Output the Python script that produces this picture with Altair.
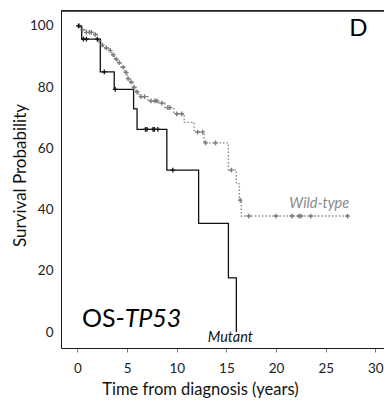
import altair as alt
import pandas as pd

FONT = "Lato"

# Kaplan-Meier step points (time in years, survival %)
mutant_t = [0, 0.42, 2.3, 3.7, 5.65, 6.0, 9.0, 12.2, 15.2, 16.0]
mutant_s = [100, 95.7, 85.0, 79.3, 72.9, 66.2, 52.9, 35.5, 17.7, 0]

wt_t = [0, 0.3, 0.8, 1.6, 2.0, 2.3, 2.6, 3.1, 3.4, 3.7, 4.0, 4.4, 4.7, 5.0, 5.3,
        5.6, 5.9, 6.2, 7.1, 8.2, 8.8, 9.7, 10.75, 11.75, 12.75, 15.2, 16.0,
        16.3, 16.5, 27.2]
wt_s = [100, 98.7, 97.9, 97.2, 95.2, 93.8, 92.8, 92.0, 90.6, 89.2, 88.0, 86.5,
        84.8, 82.8, 81.7, 79.9, 78.4, 76.9, 75.5, 74.8, 73.3, 71.3, 68.5, 65.3,
        61.8, 52.9, 48.4, 43.1, 37.9, 37.9]

# Censored observations
mutant_cens_t = [0.1, 0.6, 0.9, 2.0, 2.7, 3.8, 6.85, 7.0, 7.6, 7.75, 8.1, 9.6]
mutant_cens_s = [100, 95.7, 95.7, 95.7, 85.0, 79.3, 66.2, 66.2, 66.2, 66.2, 66.2, 52.9]

wt_cens_t = [0.2, 0.5, 0.9, 1.2, 1.4, 1.8, 2.2, 2.5, 2.9, 3.3, 3.6, 3.9, 4.2, 4.6,
             4.9, 5.1, 5.4, 5.7, 6.0, 6.4, 6.75, 7.4, 7.8, 8.0, 8.5, 9.1, 9.3,
             10.0, 10.5, 12.1, 12.6, 12.9, 13.9, 15.5, 16.4, 17.25, 20.0, 21.6,
             22.3, 22.5, 23.5, 27.2]
wt_cens_s = [100, 98.7, 97.9, 97.9, 97.9, 97.2, 95.2, 93.8, 92.8, 92.0, 90.6,
             89.2, 88.0, 86.5, 84.8, 82.8, 81.7, 79.9, 78.4, 76.9, 76.9, 75.5,
             75.5, 75.5, 74.8, 73.3, 73.3, 71.3, 71.3, 65.3, 65.3, 61.8, 61.8,
             52.9, 43.1, 37.9, 37.9, 37.9, 37.9, 37.9, 37.9, 37.9]

x_ticks = [0, 5, 10, 15, 20, 25, 30]
y_ticks = [0, 20, 40, 60, 80, 100]

X_MIN, X_MAX = -1.66, 30.87
Y_MIN, Y_MAX = -5.2, 105.2

W, H = 323, 338
xs = alt.Scale(domain=[X_MIN, X_MAX], nice=False, zero=False)
ys = alt.Scale(domain=[Y_MIN, Y_MAX], nice=False, zero=False)

mut = pd.DataFrame({"t": mutant_t, "s": mutant_s})
wt = pd.DataFrame({"t": wt_t, "s": wt_s})
mut_c = pd.DataFrame({"t": mutant_cens_t, "s": mutant_cens_s})
wt_c = pd.DataFrame({"t": wt_cens_t, "s": wt_cens_s})

x_enc = alt.X("t:Q", scale=xs, axis=alt.Axis(
    values=x_ticks, title="Time from diagnosis (years)", grid=False,
    domainColor="#1a1a1a", domainWidth=1, tickColor="#777", tickSize=4,
    labelFontSize=13.5, labelFont=FONT, labelColor="#222", labelPadding=9,
    titleFont=FONT, titleFontSize=16.5, titleFontWeight="normal", titleColor="#111",
    titleX=139, titleY=41, titleBaseline="middle", titleAlign="center"))
y_enc = alt.Y("s:Q", scale=ys, axis=alt.Axis(
    values=y_ticks, title="Survival Probability", grid=False,
    domainColor="#1a1a1a", domainWidth=1, ticks=False,
    labelFontSize=13.5, labelFont=FONT, labelColor="#222", labelPadding=8,
    titleFont=FONT, titleFontSize=17, titleFontWeight="normal", titleColor="#111",
    titleX=-41, titleY=165, titleBaseline="middle", titleAlign="center",
    titleAngle=270))

plus = "M-1,0H1M0,-1V1"

wt_line = alt.Chart(wt).mark_line(interpolate="step-after", color="#8a8a8a",
                                  strokeWidth=1.4, strokeDash=[1.5, 2]).encode(x=x_enc, y=y_enc)
mut_line = alt.Chart(mut).mark_line(interpolate="step-after", color="#111",
                                    strokeWidth=1.3).encode(x="t:Q", y="s:Q")
wt_pts = alt.Chart(wt_c).mark_point(shape=plus, size=22, filled=False,
                                    color="#7a7a7a", strokeWidth=1.4, opacity=1).encode(x="t:Q", y="s:Q")
mut_pts = alt.Chart(mut_c).mark_point(shape=plus, size=22, filled=False,
                                      color="#111", strokeWidth=1.3, opacity=1).encode(x="t:Q", y="s:Q")

# top frame line, placed through the scales at the top of the y domain
frame = pd.DataFrame({"x0": [X_MIN], "x1": [X_MAX], "y0": [Y_MAX - 0.3]})
top_line = alt.Chart(frame).mark_rule(color="#222", strokeWidth=1.6).encode(
    x="x0:Q", x2="x1:Q", y="y0:Q")

labels = pd.DataFrame({
    "t": [0.45, 4.75, 15.4, 24.35],
    "s": [1.6, 1.6, -3.2, 40.4],
    "txt": ["OS-", "TP53", "Mutant", "Wild-type"],
})
os_txt = alt.Chart(labels.iloc[[0]]).mark_text(font=FONT, fontSize=25, align="left",
                                               baseline="alphabetic", color="#000").encode(
    x="t:Q", y="s:Q", text="txt:N")
tp_txt = alt.Chart(labels.iloc[[1]]).mark_text(font=FONT, fontSize=25, fontStyle="italic",
                                               align="left", baseline="alphabetic", color="#000").encode(
    x="t:Q", y="s:Q", text="txt:N")
mut_txt = alt.Chart(labels.iloc[[2]]).mark_text(font=FONT, fontSize=14.5, fontStyle="italic",
                                                align="center", baseline="alphabetic", color="#111").encode(
    x="t:Q", y="s:Q", text="txt:N")
wt_txt = alt.Chart(labels.iloc[[3]]).mark_text(font=FONT, fontSize=14.5, fontStyle="italic",
                                               align="center", baseline="alphabetic", color="#8a8a8a").encode(
    x="t:Q", y="s:Q", text="txt:N")
d_txt = alt.Chart(pd.DataFrame({"t": [28.3], "s": [99.0], "txt": ["D"]})).mark_text(
    font=FONT, fontSize=24, align="center", baseline="middle", color="#000").encode(
    x="t:Q", y="s:Q", text="txt:N")

chart = alt.layer(wt_line, mut_line, wt_pts, mut_pts, top_line,
                  os_txt, tp_txt, mut_txt, wt_txt, d_txt).properties(
    width=W, height=H,
    autosize=alt.AutoSizeParams(type="none"),
    padding={"left": 53, "top": 2, "right": 0, "bottom": 50},
    background="white",
).configure_view(stroke=None)

chart.save("out.html", embed_options={"renderer": "svg", "actions": False})
